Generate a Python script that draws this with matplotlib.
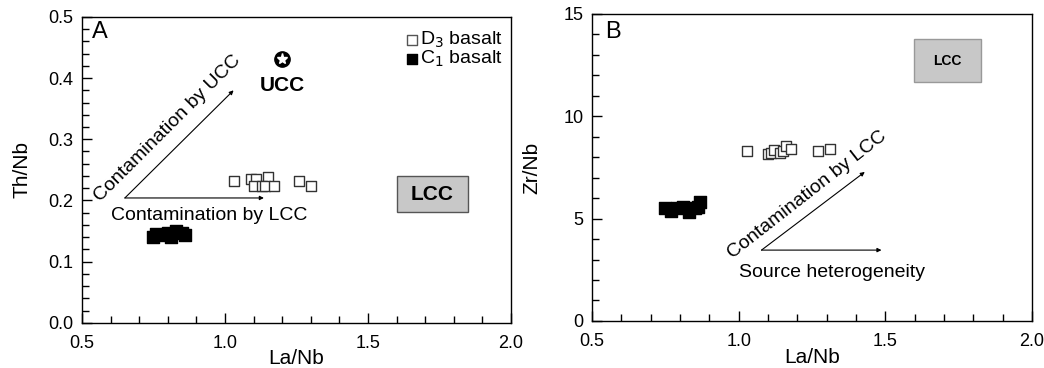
import numpy as np
import matplotlib.pyplot as plt
from matplotlib.patches import Rectangle
from matplotlib.ticker import MultipleLocator

plt.rcParams['font.family'] = ['Liberation Sans', 'DejaVu Sans']

# panel A: La/Nb vs Th/Nb
d3_lanb_a = [1.03, 1.09, 1.11, 1.15, 1.10, 1.13, 1.14, 1.17, 1.26, 1.30]
d3_thnb = [0.232, 0.235, 0.235, 0.238, 0.224, 0.224, 0.224, 0.224, 0.232, 0.224]
c1_lanb_a = [0.75, 0.76, 0.78, 0.80, 0.81, 0.83, 0.85, 0.86]
c1_thnb = [0.140, 0.145, 0.143, 0.147, 0.140, 0.150, 0.146, 0.143]
ucc = (1.2, 0.431)

# panel B: La/Nb vs Zr/Nb
d3_lanb_b = [1.03, 1.10, 1.11, 1.12, 1.14, 1.15, 1.16, 1.18, 1.27, 1.31]
d3_zrnb = [8.32, 8.15, 8.2, 8.35, 8.2, 8.3, 8.55, 8.4, 8.32, 8.42]
c1_lanb_b = [0.75, 0.77, 0.79, 0.81, 0.83, 0.85, 0.86, 0.87]
c1_zrnb = [5.5, 5.35, 5.5, 5.55, 5.3, 5.5, 5.55, 5.8]

fig = plt.figure(figsize=(10.44, 3.68), dpi=100)
axA = fig.add_axes([0.0785, 0.123, 0.411, 0.831])
axB = fig.add_axes([0.567, 0.128, 0.4215, 0.834])


def style(ax, ymax, ymajor, yminor, yfmt):
    ax.set_xlim(0.5, 2.0)
    ax.set_ylim(0, ymax)
    ax.xaxis.set_major_locator(MultipleLocator(0.5))
    ax.xaxis.set_minor_locator(MultipleLocator(0.1))
    ax.yaxis.set_major_locator(MultipleLocator(ymajor))
    ax.yaxis.set_minor_locator(MultipleLocator(yminor))
    ax.xaxis.set_major_formatter(plt.FormatStrFormatter('%.1f'))
    ax.yaxis.set_major_formatter(plt.FormatStrFormatter(yfmt))
    ax.tick_params(which='both', direction='in', top=False, right=False, labelsize=13)
    ax.tick_params(which='major', length=7, width=1)
    ax.tick_params(which='minor', length=5, width=1)
    ax.tick_params(axis='x', which='major', pad=9)
    ax.tick_params(axis='y', which='major', pad=6)
    for s in ax.spines.values():
        s.set_linewidth(1.0)
    ax.set_xlabel('La/Nb', fontsize=15, labelpad=-2)


style(axA, 0.5, 0.1, 0.02, '%.1f')
style(axB, 15, 5, 1, '%d')

arrow = dict(arrowstyle='-|>', lw=0.8, color='black', mutation_scale=6, shrinkA=0, shrinkB=0)

# panel A
axA.scatter(d3_lanb_a, d3_thnb, marker='s', s=60, facecolors='white', edgecolors='#333333', linewidths=1, zorder=3)
axA.scatter(c1_lanb_a, c1_thnb, marker='s', s=80, color='black', zorder=3)
axA.plot(*ucc, marker='o', ms=11, color='black', zorder=4)
axA.plot(*ucc, marker='*', ms=8, color='white', mec='white', zorder=5)
axA.text(ucc[0], 0.388, 'UCC', fontsize=15, fontweight='bold', ha='center', va='center')
axA.add_patch(Rectangle((1.60, 0.181), 0.25, 0.059, facecolor='#c8c8c8', edgecolor='#555555', lw=1, zorder=2))
axA.text(1.725, 0.21, 'LCC', fontsize=15, fontweight='bold', ha='center', va='center', zorder=3)
axA.annotate('', xy=(1.136, 0.204), xytext=(0.65, 0.204), arrowprops=arrow)
axA.annotate('', xy=(1.03, 0.38), xytext=(0.65, 0.204), arrowprops=arrow)
axA.text(0.80, 0.318, 'Contamination by UCC', fontsize=14, rotation=45, ha='center', va='center')
axA.text(0.944, 0.175, 'Contamination by LCC', fontsize=14, ha='center', va='center')
axA.text(0.535, 0.475, 'A', fontsize=17, ha='left', va='center')
axA.set_ylabel('Th/Nb', fontsize=15, labelpad=12)

# legend
axA.scatter([1.654], [0.462], marker='s', s=45, facecolors='white', edgecolors='#555555', linewidths=1)
axA.scatter([1.654], [0.431], marker='s', s=45, color='black')
axA.text(1.68, 0.462, 'D$_3$ basalt', fontsize=14, va='center')
axA.text(1.68, 0.431, 'C$_1$ basalt', fontsize=14, va='center')

# panel B
axB.scatter(d3_lanb_b, d3_zrnb, marker='s', s=60, facecolors='white', edgecolors='#333333', linewidths=1, zorder=3)
axB.scatter(c1_lanb_b, c1_zrnb, marker='s', s=80, color='black', zorder=3)
axB.add_patch(Rectangle((1.598, 11.67), 0.228, 2.09, facecolor='#c8c8c8', edgecolor='#999999', lw=1, zorder=2))
axB.text(1.712, 12.7, 'LCC', fontsize=10, fontweight='bold', ha='center', va='center', zorder=3)
axB.annotate('', xy=(1.487, 3.46), xytext=(1.078, 3.46), arrowprops=arrow)
axB.annotate('', xy=(1.43, 7.28), xytext=(1.078, 3.46), arrowprops=arrow)
axB.text(1.235, 6.15, 'Contamination by LCC', fontsize=14, rotation=38, ha='center', va='center')
axB.text(1.317, 2.35, 'Source heterogeneity', fontsize=14, ha='center', va='center')
axB.text(0.545, 14.1, 'B', fontsize=17, ha='left', va='center')
axB.set_ylabel('Zr/Nb', fontsize=15, labelpad=16)

fig.savefig('out.png', dpi=100)
